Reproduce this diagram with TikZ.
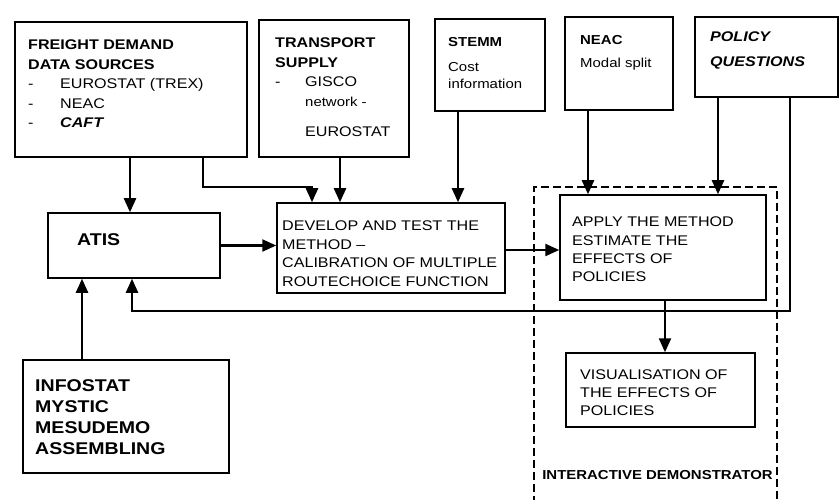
\documentclass[tikz,border=0pt]{standalone}
\usepackage{fontspec}
\setmainfont{Liberation Sans}[FakeStretch=1.15]
\usetikzlibrary{arrows.meta,positioning}
\newcommand{\itm}{\makebox[32pt][l]{-}}
\newcommand{\fsz}[2]{\fontsize{#1}{#2}\selectfont}

\begin{document}
\begin{tikzpicture}[x=1pt, y=-1pt,
    box/.style={draw, line width=1.5pt, inner sep=0pt},
    txt/.style={anchor=north west, inner sep=0pt, align=left},
    arr/.style={line width=2.3pt, -{Triangle[length=14pt,width=12pt]}},
    demo/.style={line width=2.2pt, dash pattern=on 8pt off 4pt},
]
\useasboundingbox (0,0) rectangle (839,500);

\node[box, minimum width=232pt, minimum height=135pt] (freight) at (131,89.5) {};
\node[box, minimum width=150pt, minimum height=137pt] (supply) at (334,88.5) {};
\node[box, minimum width=110pt, minimum height=92pt] (stemm) at (490,65) {};
\node[box, minimum width=108pt, minimum height=93pt] (neac) at (619,63.5) {};
\node[box, minimum width=143pt, minimum height=80pt] (policy) at (766.5,57) {};
\node[box, minimum width=172pt, minimum height=65pt] (atis) at (134,245.5) {};
\node[box, minimum width=228pt, minimum height=90pt] (develop) at (391,248) {};
\node[box, minimum width=206pt, minimum height=105pt] (apply) at (663,247.5) {};
\node[box, minimum width=189pt, minimum height=74pt] (vis) at (660.5,390) {};
\node[box, minimum width=206pt, minimum height=113pt] (info) at (126,416.5) {};

\node[txt, font=\fsz{14}{19.5}] (freighttxt) at (28,40) {\textbf{FREIGHT DEMAND}\\
  \textbf{DATA SOURCES}\\ \itm EUROSTAT (TREX)\\ \itm NEAC\\ \itm\textbf{\textit{CAFT}}};
\node[txt, font=\fsz{14}{19.5}] (supplytxt) at (275,38) {\textbf{TRANSPORT}\\
  \textbf{SUPPLY}\\ \makebox[30pt][l]{-}GISCO\\
  \hspace*{30pt}{\fsz{13}{19.5}network -}\\[11pt] \hspace*{30pt}EUROSTAT};
\node[txt, font=\fsz{13}{17.5}] (stemmtxt) at (448,37.5) {\textbf{STEMM}\\[7pt] Cost\\ information};
\node[txt, font=\fsz{13}{17.5}] (neactxt) at (580,35.5) {\textbf{NEAC}\\[5pt] Modal split};
\node[txt, font=\fsz{14}{19}] (policytxt) at (710,32) {\textbf{\textit{POLICY}}\\[6pt] \textbf{\textit{QUESTIONS}}};
\node[txt, font=\bfseries\fsz{17}{21}] (atistxt) at (77,233) {ATIS};
\node[txt, font=\fsz{14}{18.5}] (developtxt) at (282,221) {DEVELOP AND TEST THE\\
  METHOD --\\ CALIBRATION OF MULTIPLE\\ ROUTECHOICE FUNCTION};
\node[txt, font=\fsz{14}{18.3}] (applytxt) at (572,217) {APPLY THE METHOD\\
  ESTIMATE THE\\ EFFECTS OF\\ POLICIES};
\node[txt, font=\fsz{14}{18}] (vistxt) at (580,370) {VISUALISATION OF\\
  THE EFFECTS OF\\ POLICIES};
\node[txt, font=\bfseries\fsz{17}{21}] (infotxt) at (35,379) {INFOSTAT\\ MYSTIC\\
  MESUDEMO\\ ASSEMBLING};

\draw[demo] (534,504) -- (534,187) -- (777,187) -- (777,504);
\node[font=\bfseries\fsz{13}{15}] (demolbl) at (657.5,475) {INTERACTIVE DEMONSTRATOR};

\draw[arr] ([xshift=-4pt]atis.north |- freight.south) -- ([xshift=-4pt]atis.north);
\draw[arr] ([xshift=72pt]freight.south) -- ++(0,29) -| ([xshift=-79pt]develop.north);
\draw[arr] ([xshift=6pt]supply.south) -- ([xshift=6pt]supply.south |- develop.north);
\draw[arr] ([xshift=-32pt]stemm.south) -- ([xshift=-32pt]stemm.south |- develop.north);
\draw[arr] ([xshift=-31pt]neac.south) -- ([xshift=-31pt]neac.south |- apply.north);
\draw[arr] ([xshift=-48.5pt]policy.south) -- ([xshift=-48.5pt]policy.south |- apply.north);
\draw[arr] ([xshift=23.5pt]policy.south) -- ++(0,213) -| ([xshift=-2pt]atis.south);
\draw[arr] (atis.east) -- (atis.east -| develop.west);
\draw[arr] ([yshift=-2pt]develop.east) -- ([yshift=-2pt]develop.east -| apply.west);
\draw[arr] ([xshift=2pt]apply.south) -- ([xshift=2pt]apply.south |- vis.north);
\draw[arr] ([xshift=-44pt]info.north) -- ([xshift=-44pt]info.north |- atis.south);
\end{tikzpicture}
\end{document}
